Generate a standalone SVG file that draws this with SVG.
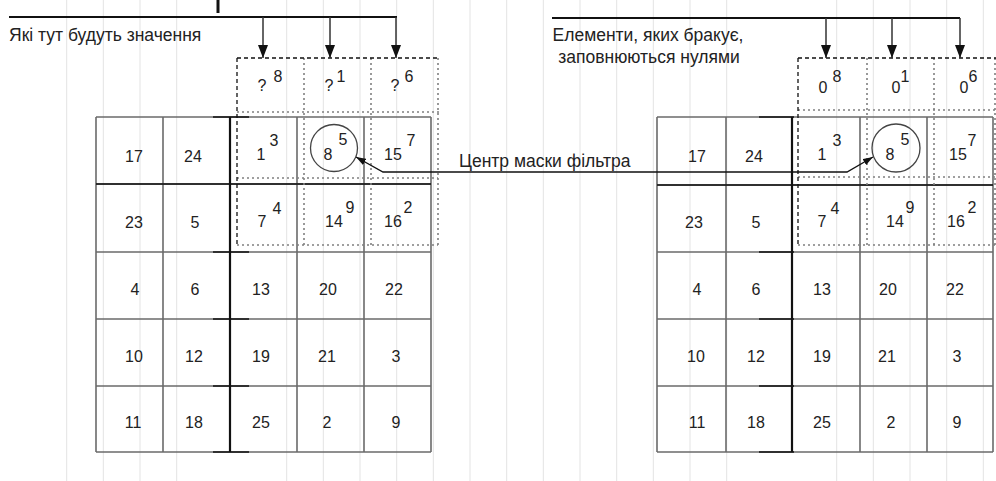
<svg xmlns="http://www.w3.org/2000/svg" width="996" height="481" viewBox="0 0 996 481">
<style>
  .bg line { stroke: #e3e3e3; stroke-width: 1; }
  .grid line { stroke: #6a6a6a; stroke-width: 1.6; }
  .blk { stroke: #111; stroke-width: 1.3; }
  .blkv { stroke: #111; stroke-width: 2.2; }
  .dash { stroke: #111; stroke-width: 1.3; stroke-dasharray: 4 3; fill: none; }
  .dot { stroke: #808080; stroke-width: 1.6; stroke-dasharray: 2 3; fill: none; }
  .num { font-family: "Liberation Sans", Arial, sans-serif; font-size: 16px; fill: #222; text-anchor: middle; }
  .lbl { font-family: "Liberation Sans", Arial, sans-serif; font-size: 17.5px; fill: #222; }
  .feed { stroke: #111; stroke-width: 2; fill: none; }
  .drop { stroke: #333; stroke-width: 1.5; fill: none; marker-end: url(#ah); }
  .ring { stroke: #444; stroke-width: 1.3; fill: none; }
  .conn { stroke: #111; stroke-width: 1.3; fill: none; marker-start: url(#ch); marker-end: url(#ch); }
</style>
<defs>
  <marker id="ah" viewBox="0 0 13 10" refX="13" refY="5" markerWidth="13" markerHeight="10" markerUnits="userSpaceOnUse" orient="auto">
    <path d="M0,0 L13,5 L0,10 z" fill="#111"/>
  </marker>
  <marker id="ch" viewBox="0 0 10 7" refX="10" refY="3.5" markerWidth="10" markerHeight="7" markerUnits="userSpaceOnUse" orient="auto-start-reverse">
    <path d="M0,0 L10,3.5 L0,7 z" fill="#111"/>
  </marker>
</defs>
<rect width="996" height="481" fill="#fff"/>

<g id="background" class="bg">
  <line x1="66.7" y1="0" x2="66.7" y2="481"/>
  <line x1="103.3" y1="0" x2="103.3" y2="481"/>
  <line x1="140" y1="0" x2="140" y2="481"/>
  <line x1="176.7" y1="0" x2="176.7" y2="481"/>
  <line x1="286.7" y1="0" x2="286.7" y2="481"/>
  <line x1="323.3" y1="0" x2="323.3" y2="481"/>
  <line x1="360" y1="0" x2="360" y2="481"/>
  <line x1="396.7" y1="0" x2="396.7" y2="481"/>
  <line x1="433.3" y1="0" x2="433.3" y2="481"/>
  <line x1="470" y1="0" x2="470" y2="481"/>
  <line x1="506.7" y1="0" x2="506.7" y2="481"/>
  <line x1="543.3" y1="0" x2="543.3" y2="481"/>
  <line x1="580" y1="0" x2="580" y2="481"/>
  <line x1="616.7" y1="0" x2="616.7" y2="481"/>
  <line x1="653.3" y1="0" x2="653.3" y2="481"/>
  <line x1="690" y1="0" x2="690" y2="481"/>
  <line x1="726.7" y1="0" x2="726.7" y2="481"/>
  <line x1="836.7" y1="0" x2="836.7" y2="481"/>
  <line x1="873.3" y1="0" x2="873.3" y2="481"/>
  <line x1="910" y1="0" x2="910" y2="481"/>
  <line x1="946.7" y1="0" x2="946.7" y2="481"/>
  <line x1="983.3" y1="0" x2="983.3" y2="481"/>
</g>

<!-- LEFT MATRIX -->
<g id="left-grid">
  <g class="grid">
    <line x1="96" y1="117" x2="431" y2="117"/>
    <line x1="96" y1="184" x2="431" y2="184"/>
    <line x1="96" y1="252" x2="431" y2="252"/>
    <line x1="96" y1="319" x2="431" y2="319"/>
    <line x1="96" y1="386" x2="431" y2="386"/>
    <line x1="96" y1="452" x2="431" y2="452"/>
    <line x1="96" y1="117" x2="96" y2="452"/>
    <line x1="163" y1="117" x2="163" y2="452"/>
    <line x1="297" y1="117" x2="297" y2="452"/>
    <line x1="364" y1="117" x2="364" y2="452"/>
    <line x1="431" y1="117" x2="431" y2="452"/>
  </g>
  <line class="blk" x1="96" y1="184" x2="431" y2="184"/>
  <line class="blk" x1="213" y1="117" x2="249" y2="117"/>
  <line class="blk" x1="213" y1="252" x2="249" y2="252"/>
  <line class="blk" x1="213" y1="319" x2="249" y2="319"/>
  <line class="blk" x1="213" y1="386" x2="249" y2="386"/>
  <line class="blk" x1="213" y1="452" x2="249" y2="452"/>
  <line class="blkv" x1="230" y1="117" x2="230" y2="452"/>
  <g id="left-values">
    <text class="num" x="134" y="162">17</text>
    <text class="num" x="193" y="162">24</text>
    <text class="num" x="134" y="228">23</text>
    <text class="num" x="195" y="228">5</text>
    <text class="num" x="135" y="295">4</text>
    <text class="num" x="195" y="295">6</text>
    <text class="num" x="261" y="295">13</text>
    <text class="num" x="328" y="295">20</text>
    <text class="num" x="394" y="295">22</text>
    <text class="num" x="134" y="362">10</text>
    <text class="num" x="194" y="362">12</text>
    <text class="num" x="261" y="362">19</text>
    <text class="num" x="327" y="362">21</text>
    <text class="num" x="396" y="362">3</text>
    <text class="num" x="133" y="428">11</text>
    <text class="num" x="194" y="428">18</text>
    <text class="num" x="261" y="428">25</text>
    <text class="num" x="327" y="428">2</text>
    <text class="num" x="396" y="428">9</text>
  </g>
</g>

<g id="left-mask">
  <line class="dot" x1="237" y1="112" x2="439" y2="112"/>
  <line class="dot" x1="237" y1="178" x2="438" y2="178"/>
  <line class="dot" x1="237" y1="245" x2="438" y2="245"/>
  <line class="dot" x1="304" y1="58" x2="304" y2="245"/>
  <line class="dot" x1="371" y1="58" x2="371" y2="245"/>
  <line class="dot" x1="438" y1="58" x2="438" y2="245"/>
  <line class="dash" x1="237" y1="58" x2="439" y2="58"/>
  <line class="dash" x1="237" y1="58" x2="237" y2="245"/>
  <g id="left-mask-values">
    <text class="num" x="262" y="91">?</text><text class="num" x="278" y="82">8</text>
    <text class="num" x="329" y="91">?</text><text class="num" x="341" y="82">1</text>
    <text class="num" x="395" y="91">?</text><text class="num" x="409" y="82">6</text>
    <text class="num" x="261" y="160">1</text><text class="num" x="274" y="146">3</text>
    <text class="num" x="328" y="160">8</text><text class="num" x="343" y="145">5</text>
    <text class="num" x="393" y="160">15</text><text class="num" x="411" y="146">7</text>
    <text class="num" x="262" y="227">7</text><text class="num" x="277" y="214">4</text>
    <text class="num" x="334" y="227">14</text><text class="num" x="350" y="213">9</text>
    <text class="num" x="393" y="227">16</text><text class="num" x="408" y="213">2</text>
  </g>
  <circle class="ring" cx="334" cy="148" r="23.5"/>
</g>

<!-- RIGHT MATRIX -->
<g id="right-grid">
  <g class="grid">
    <line x1="657" y1="117" x2="993" y2="117"/>
    <line x1="657" y1="185" x2="993" y2="185"/>
    <line x1="657" y1="252" x2="993" y2="252"/>
    <line x1="657" y1="319" x2="993" y2="319"/>
    <line x1="657" y1="386" x2="993" y2="386"/>
    <line x1="657" y1="452" x2="993" y2="452"/>
    <line x1="657" y1="117" x2="657" y2="452"/>
    <line x1="726" y1="117" x2="726" y2="452"/>
    <line x1="860" y1="117" x2="860" y2="452"/>
    <line x1="927" y1="117" x2="927" y2="452"/>
    <line x1="993" y1="117" x2="993" y2="452"/>
  </g>
  <line class="blk" x1="657" y1="185" x2="993" y2="185"/>
  <line class="blk" x1="759" y1="117" x2="794" y2="117"/>
  <line class="blk" x1="759" y1="252" x2="794" y2="252"/>
  <line class="blk" x1="759" y1="319" x2="794" y2="319"/>
  <line class="blk" x1="759" y1="386" x2="794" y2="386"/>
  <line class="blk" x1="759" y1="452" x2="794" y2="452"/>
  <line class="blkv" x1="792" y1="117" x2="792" y2="452"/>
  <g id="right-values">
    <text class="num" x="697" y="162">17</text>
    <text class="num" x="754" y="162">24</text>
    <text class="num" x="694" y="228">23</text>
    <text class="num" x="756" y="228">5</text>
    <text class="num" x="697" y="295">4</text>
    <text class="num" x="756" y="295">6</text>
    <text class="num" x="822" y="295">13</text>
    <text class="num" x="888" y="295">20</text>
    <text class="num" x="955" y="295">22</text>
    <text class="num" x="696" y="362">10</text>
    <text class="num" x="756" y="362">12</text>
    <text class="num" x="822" y="362">19</text>
    <text class="num" x="887" y="362">21</text>
    <text class="num" x="957" y="362">3</text>
    <text class="num" x="697" y="428">11</text>
    <text class="num" x="756" y="428">18</text>
    <text class="num" x="822" y="428">25</text>
    <text class="num" x="891" y="428">2</text>
    <text class="num" x="957" y="428">9</text>
  </g>
</g>

<g id="right-mask">
  <line class="dot" x1="798" y1="110" x2="995" y2="110"/>
  <line class="dot" x1="798" y1="177" x2="995" y2="177"/>
  <line class="dot" x1="798" y1="245" x2="995" y2="245"/>
  <line class="dot" x1="867" y1="58" x2="867" y2="245"/>
  <line class="dot" x1="934" y1="58" x2="934" y2="245"/>
  <line class="dot" x1="995" y1="58" x2="995" y2="245"/>
  <line class="dash" x1="798" y1="58" x2="996" y2="58"/>
  <line class="dash" x1="798" y1="58" x2="798" y2="245"/>
  <g id="right-mask-values">
    <text class="num" x="823" y="93">0</text><text class="num" x="837" y="82">8</text>
    <text class="num" x="896" y="93">0</text><text class="num" x="905" y="82">1</text>
    <text class="num" x="964" y="93">0</text><text class="num" x="973" y="82">6</text>
    <text class="num" x="822" y="160">1</text><text class="num" x="837" y="146">3</text>
    <text class="num" x="890" y="160">8</text><text class="num" x="905" y="145">5</text>
    <text class="num" x="958" y="160">15</text><text class="num" x="972" y="146">7</text>
    <text class="num" x="822" y="227">7</text><text class="num" x="835" y="214">4</text>
    <text class="num" x="895" y="227">14</text><text class="num" x="910" y="213">9</text>
    <text class="num" x="956" y="227">16</text><text class="num" x="972" y="213">2</text>
  </g>
  <circle class="ring" cx="896" cy="148" r="24"/>
</g>

<!-- LABELS -->
<g id="label-left">
  <text class="lbl" x="9" y="41">Які тут будуть значення</text>
</g>
<g id="label-right">
  <text class="lbl" x="648" y="41" text-anchor="middle">Елементи, яких бракує,</text>
  <text class="lbl" x="649" y="63" text-anchor="middle">заповнюються нулями</text>
</g>
<g id="label-center">
  <text class="lbl" x="459" y="167">Центр маски фільтра</text>
</g>

<!-- CONNECTORS -->
<g id="connectors">
  <line x1="218" y1="0" x2="218" y2="13" stroke="#111" stroke-width="3"/>
  <path class="feed" d="M9,17 H397"/>
  <path class="drop" d="M263,17 V58"/>
  <path class="drop" d="M330,17 V58"/>
  <path class="drop" d="M396,17 V58"/>
  <path class="feed" d="M552,18 H960"/>
  <path class="drop" d="M826,18 V58"/>
  <path class="drop" d="M892,18 V58"/>
  <path class="drop" d="M960,18 V58"/>
  <path class="conn" d="M356,157 L383,172 H847 L873,157"/>
</g>
</svg>
